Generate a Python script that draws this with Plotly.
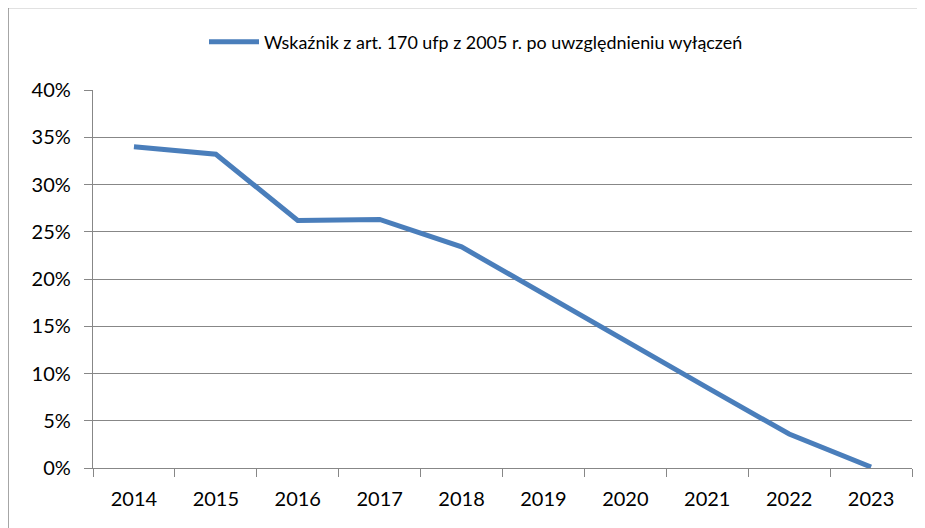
import plotly.graph_objects as go

years = ["2014", "2015", "2016", "2017", "2018", "2019", "2020", "2021", "2022", "2023"]
values = [0.340, 0.332, 0.262, 0.263, 0.234, 0.184, 0.135, 0.085, 0.036, 0.001]
series_name = "Wskaźnik z art. 170 ufp z 2005 r. po uwzględnieniu wyłączeń"
y_ticks = [0, 0.05, 0.10, 0.15, 0.20, 0.25, 0.30, 0.35, 0.40]

OFF = 8  # page body margin
W, H = 925 - OFF, 528 - OFF
L, R, T, B = 93 - OFF, 13, 90 - OFF, 60
pw, ph = W - L - R, H - T - B

def px_x(p):
    return (p - OFF - L) / pw

def px_y(p):
    return (H - B - (p - OFF)) / ph

grid = "#878787"
font = "Lato"

fig = go.Figure()
fig.add_trace(go.Scatter(
    x=years, y=values, mode="lines", name=series_name,
    line=dict(color="#4A7EBB", width=5),
    showlegend=True,
))

fig.update_layout(
    width=W, height=H,
    margin=dict(l=L, r=R, t=T, b=B),
    paper_bgcolor="white", plot_bgcolor="white",
    font=dict(family=font, color="#000000"),
    showlegend=True,
    legend=dict(
        orientation="h", x=px_x(476), y=px_y(42), xanchor="center", yanchor="middle",
        font=dict(family=font, size=17.9, color="#000000"),
        itemwidth=50, bgcolor="rgba(0,0,0,0)",
    ),
    xaxis=dict(
        type="category", range=[-0.5, 9.5],
        showgrid=False, showline=True, linecolor=grid, linewidth=1.3,
        ticks="outside", tickson="boundaries", ticklen=8, tickcolor=grid, tickwidth=1.3,
        tickfont=dict(family=font, size=20, color="#000000"),
        ticklabelstandoff=13,
        zeroline=False,
    ),
    yaxis=dict(
        range=[0, 0.4], tickvals=y_ticks, tickformat=".0%",
        showgrid=True, gridcolor=grid, gridwidth=1.3,
        showline=True, linecolor=grid, linewidth=1.3,
        ticks="outside", ticklen=8, tickcolor=grid, tickwidth=1.3,
        tickfont=dict(family=font, size=20, color="#000000"),
        ticklabelstandoff=9,
        zeroline=False,
    ),
)

# chart frame (top and left edges visible)
fig.add_shape(type="line", xref="paper", yref="paper",
              x0=px_x(8), x1=px_x(940), y0=px_y(7.5), y1=px_y(7.5),
              line=dict(color="#898989", width=1.5))
fig.add_shape(type="line", xref="paper", yref="paper",
              x0=px_x(8), x1=px_x(8), y0=px_y(7.5), y1=px_y(545),
              line=dict(color="#898989", width=1.5))

fig.write_html("out.html")
